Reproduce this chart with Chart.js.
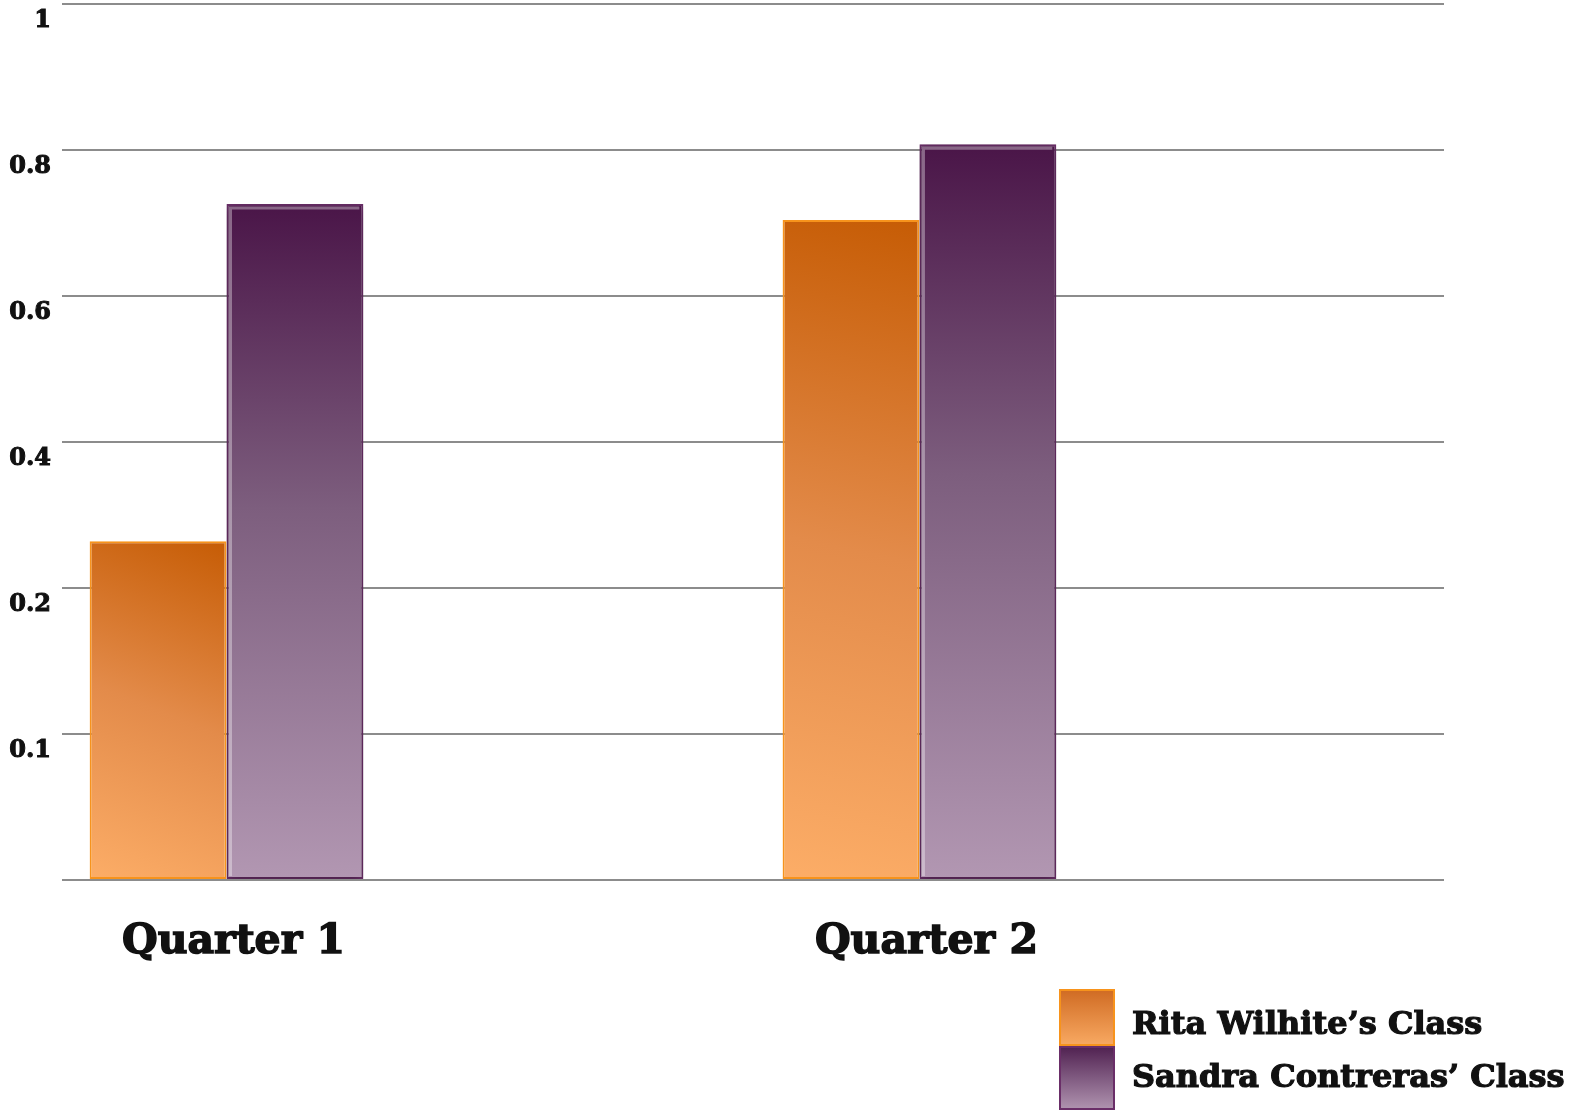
<!DOCTYPE html>
<html>
<head>
<meta charset="utf-8">
<title>Class comparison</title>
<script src="https://cdn.jsdelivr.net/npm/chart.js@4.4.1/dist/chart.umd.min.js"></script>
<style>
  html, body { margin: 0; padding: 0; background: #fff; }
  #wrap { width: 1575px; height: 1113px; position: relative; }
</style>
</head>
<body>
<div id="wrap"><canvas id="classChart"></canvas></div>
<script>
// data
const quarters = ['Quarter 1', 'Quarter 2'];
const ritaScores = [0.264, 0.704];
const sandraScores = [0.726, 0.808];
const seriesNames = ['Rita Wilhite\u2019s Class', 'Sandra Contreras\u2019 Class'];

// the y axis is evenly spaced but not evenly labelled
const yTickValues = [0, 0.1, 0.2, 0.4, 0.6, 0.8, 1];
const yTickLabels = ['', '0.1', '0.2', '0.4', '0.6', '0.8', '1'];

const FONT = "'DejaVu Serif', 'Liberation Serif', serif";
const CAT_PCT = 0.395;

// value -> position on the evenly spaced axis
function toAxis(v) {
    for (let i = 1; i < yTickValues.length; i++) {
        if (v <= yTickValues[i]) {
            const a = yTickValues[i - 1], b = yTickValues[i];
            return (i - 1) + (v - a) / (b - a);
        }
    }
    return yTickValues.length - 1;
}

function barBounds(c) {
    const chart = c.chart;
    const xs = chart.scales.x, ys = chart.scales.y;
    const center = xs.getPixelForValue(c.raw.x);
    const half = (xs.getPixelForValue(1) - xs.getPixelForValue(0)) * CAT_PCT / 2;
    return { center, half, top: ys.getPixelForValue(c.raw.y), bottom: ys.getPixelForValue(0) };
}

function ritaFill(c) {
    if (!c.chart.chartArea || !c.raw) return '#e8904a';
    const b = barBounds(c);
    const g = c.chart.ctx.createLinearGradient(b.center, b.top, b.center - b.half, b.bottom);
    g.addColorStop(0, '#c65c05');
    g.addColorStop(0.5, '#e38b4a');
    g.addColorStop(1, '#fcad67');
    return g;
}

function sandraFill(c) {
    if (!c.chart.chartArea || !c.raw) return '#7e5f7f';
    const b = barBounds(c);
    const g = c.chart.ctx.createLinearGradient(0, b.top, 0, b.bottom);
    g.addColorStop(0, '#4a1548');
    g.addColorStop(0.45, '#7d5e7e');
    g.addColorStop(1, '#b297b2');
    return g;
}

// soft shadow + inner highlight on the purple bars
const barShade = {
    id: 'barShade',
    beforeDatasetDraw(chart, args) {
        if (args.index !== 1) return;
        const ctx = chart.ctx;
        ctx.save();
        ctx.shadowColor = 'rgba(0,0,0,0.35)';
        ctx.shadowBlur = 10;
        ctx.shadowOffsetX = 0;
        ctx.shadowOffsetY = 3;
    },
    afterDatasetDraw(chart, args) {
        if (args.index !== 1) return;
        const ctx = chart.ctx;
        ctx.restore();
        ctx.save();
        ctx.strokeStyle = 'rgba(255,255,255,0.35)';
        ctx.lineWidth = 3;
        args.meta.data.forEach(el => {
            const left = el.x - el.width / 2;
            ctx.beginPath();
            ctx.moveTo(left + 4, el.base - 3);
            ctx.lineTo(left + 4, el.y + 4);
            ctx.lineTo(el.x + el.width / 2 - 4, el.y + 4);
            ctx.stroke();
        });
        ctx.restore();
    }
};

// legend in the bottom right corner, stacked swatches
const cornerLegend = {
    id: 'cornerLegend',
    afterDraw(chart, args, opts) {
        const ctx = chart.ctx;
        ctx.save();
        opts.rows.forEach((row, i) => {
            const ds = chart.data.datasets[i];
            const g = ctx.createLinearGradient(0, row.top, 0, row.top + row.h);
            g.addColorStop(0, opts.swatchTop[i]);
            g.addColorStop(1, opts.swatchBottom[i]);
            ctx.fillStyle = g;
            ctx.fillRect(opts.left, row.top, opts.boxWidth, row.h);
            ctx.strokeStyle = ds.borderColor;
            ctx.lineWidth = 2;
            ctx.strokeRect(opts.left + 1, row.top + 1, opts.boxWidth - 2, row.h - 2);

            ctx.fillStyle = '#111';
            ctx.strokeStyle = '#111';
            ctx.lineWidth = 1.2;
            ctx.font = 'bold ' + opts.fontSize + 'px ' + FONT;
            ctx.textAlign = 'left';
            ctx.textBaseline = 'middle';
            const tx = opts.left + opts.boxWidth + opts.gap;
            ctx.fillText(ds.label, tx, row.textY);
            ctx.strokeText(ds.label, tx, row.textY);
        });
        ctx.restore();
    }
};

const ctx = document.getElementById('classChart').getContext('2d');

window.classChart = new Chart(ctx, {
    type: 'bar',
    data: {
        datasets: [{
            label: seriesNames[0],
            data: ritaScores.map((v, i) => ({ x: i, y: toAxis(v), value: v })),
            backgroundColor: ritaFill,
            borderColor: '#f7931c',
            borderWidth: 2,
            borderSkipped: false
        }, {
            label: seriesNames[1],
            data: sandraScores.map((v, i) => ({ x: i, y: toAxis(v), value: v })),
            backgroundColor: sandraFill,
            borderColor: '#6a2e68',
            borderWidth: 2,
            borderSkipped: false
        }]
    },
    options: {
        responsive: true,
        maintainAspectRatio: false,
        animation: false,
        categoryPercentage: CAT_PCT,
        barPercentage: 1,
        layout: { padding: { top: 4, left: 7, right: 131, bottom: 151 } },
        plugins: {
            legend: { display: false },
            tooltip: {
                callbacks: {
                    title: items => quarters[items[0].raw.x],
                    label: item => item.dataset.label + ': ' + item.raw.value
                }
            },
            cornerLegend: {
                left: 1059,
                boxWidth: 56,
                gap: 17,
                fontSize: 32,
                rows: [
                    { top: 989, h: 57, textY: 1026 },
                    { top: 1046, h: 64, textY: 1079 }
                ],
                swatchTop: ['#cf6a22', '#4f2050'],
                swatchBottom: ['#f9aa63', '#b195b1']
            }
        },
        scales: {
            x: {
                type: 'linear',
                min: -0.2374,
                max: 1.757,
                offset: false,
                grid: { display: false, offset: false },
                border: { display: false },
                afterBuildTicks: axis => {
                    axis.ticks = quarters.map((q, i) => ({ value: i }));
                },
                afterFit: axis => {
                    axis.height = 82;
                    axis.paddingLeft = 0;
                    axis.paddingRight = 0;
                },
                ticks: {
                    autoSkip: false,
                    maxRotation: 0,
                    padding: 30,
                    labelOffset: 7,
                    color: '#111',
                    textStrokeColor: '#111',
                    textStrokeWidth: 1.5,
                    font: { family: FONT, size: 41, weight: 'bold' },
                    callback: v => quarters[v]
                }
            },
            y: {
                min: 0,
                max: 6,
                grid: { color: '#8c8c8c', lineWidth: 2, drawTicks: false },
                border: { display: false },
                afterFit: axis => {
                    axis.width = 55;
                    axis.paddingTop = 0;
                    axis.paddingBottom = 0;
                },
                ticks: {
                    stepSize: 1,
                    align: 'start',
                    padding: 11,
                    labelOffset: 5,
                    color: '#111',
                    textStrokeColor: '#111',
                    textStrokeWidth: 1,
                    font: { family: FONT, size: 24, weight: 'bold' },
                    callback: v => yTickLabels[v]
                }
            }
        }
    },
    plugins: [barShade, cornerLegend]
});
</script>
</body>
</html>
